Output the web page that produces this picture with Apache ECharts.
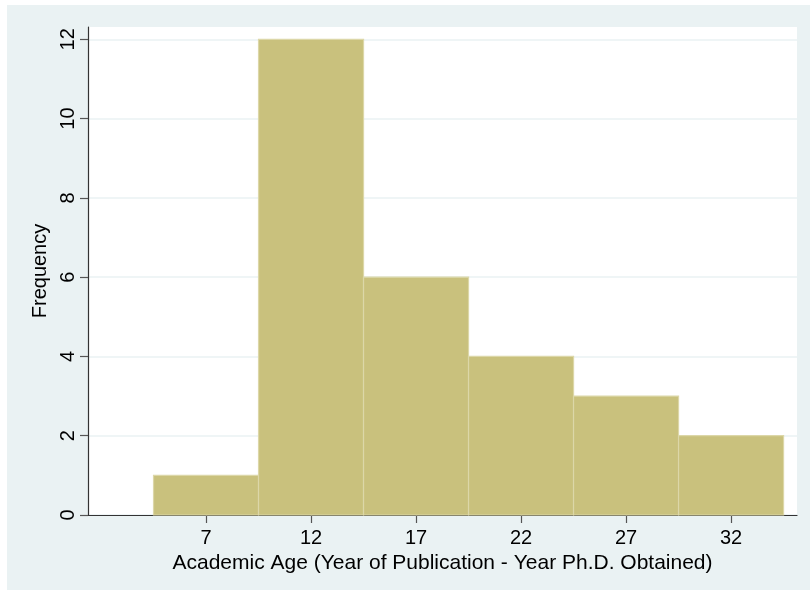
<!DOCTYPE html>
<html>
<head>
<meta charset="utf-8">
<script src="https://cdn.jsdelivr.net/npm/echarts@6/dist/echarts.min.js"></script>
<style>
html,body{margin:0;padding:0;background:#fff;}
#chart{width:810px;height:591px;}
</style>
</head>
<body>
<div id="chart"></div>
<script>
// Histogram data: bin centers and frequencies
var binCenters = [7, 12, 17, 22, 27, 32];
var frequencies = [1, 12, 6, 4, 3, 2];
var binWidth = 5;
var xTickValues = [7, 12, 17, 22, 27, 32];
var yTickValues = [0, 2, 4, 6, 8, 10, 12];

var seriesData = binCenters.map(function (c, i) { return [c, frequencies[i]]; });

var chart = echarts.init(document.getElementById('chart'), null, {renderer: 'canvas'});
var FONT = 'Liberation Sans, Arial, sans-serif';

chart.setOption({
  backgroundColor: '#ffffff',
  animation: false,
  graphic: [{
    type: 'rect',
    z: -10,
    silent: true,
    shape: {x: 7, y: 5, width: 803, height: 585},
    style: {fill: '#eaf2f3'}
  }],
  grid: {
    left: 88, right: 13, top: 27, bottom: 76,
    show: true, backgroundColor: '#ffffff', borderWidth: 0
  },
  xAxis: {
    type: 'value',
    min: 1.38, max: 35.14,
    name: 'Academic Age (Year of Publication - Year Ph.D. Obtained)',
    nameLocation: 'middle',
    nameGap: 32,
    nameTextStyle: {fontFamily: FONT, fontSize: 21, color: '#000'},
    axisLine: {show: true, onZero: false, lineStyle: {color: '#333', width: 1.2}},
    axisTick: {show: true, length: 8, customValues: xTickValues, lineStyle: {color: '#555', width: 1.2}},
    axisLabel: {customValues: xTickValues, margin: 13, fontFamily: FONT, fontSize: 20, color: '#000'},
    splitLine: {show: false}
  },
  yAxis: {
    type: 'value',
    min: 0, max: 12.31,
    name: 'Frequency',
    nameLocation: 'middle',
    nameRotate: 90,
    nameGap: 36,
    nameTextStyle: {fontFamily: FONT, fontSize: 20, color: '#000'},
    axisLine: {show: true, onZero: false, lineStyle: {color: '#333', width: 1.2}},
    axisTick: {show: true, length: 8, customValues: yTickValues, lineStyle: {color: '#555', width: 1.2}},
    axisLabel: {customValues: yTickValues, rotate: 90, margin: 10, fontFamily: FONT, fontSize: 20, color: '#000'},
    splitLine: {show: true, lineStyle: {color: '#eaf2f3', width: 1.5}}
  },
  series: [{
    type: 'custom',
    data: seriesData,
    renderItem: function (params, api) {
      var c = api.value(0);
      var f = api.value(1);
      var p0 = api.coord([c - binWidth / 2, f]);
      var p1 = api.coord([c + binWidth / 2, 0]);
      return {
        type: 'rect',
        shape: {x: p0[0], y: p0[1], width: p1[0] - p0[0], height: p1[1] - p0[1]},
        style: {fill: '#c9c17d', stroke: '#dcd7a8', lineWidth: 1.2}
      };
    },
    encode: {x: 0, y: 1}
  }]
});
</script>
</body>
</html>
